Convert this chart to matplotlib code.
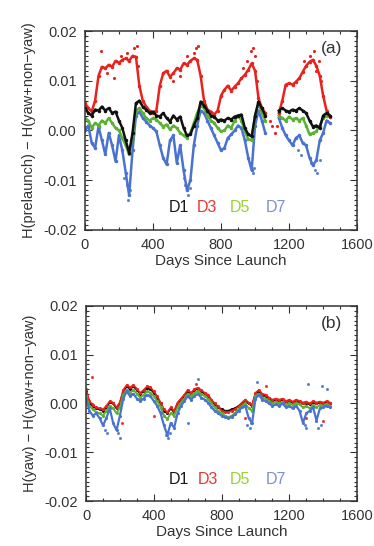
import numpy as np
import matplotlib
matplotlib.use("Agg")
import matplotlib.pyplot as plt
from matplotlib.ticker import MultipleLocator, FormatStrFormatter

nan = np.nan
days = list(range(0, 1441, 20))

# ---------------- Panel (a): H(prelaunch) - H(yaw+non-yaw) ----------------
a_D3 = [0.0055, 0.0045, 0.0038, 0.0060, 0.0110, 0.0128, 0.0125, 0.0132, 0.0128, 0.0140,
        0.0136, 0.0142, 0.0145, 0.0140, 0.0150, 0.0148, 0.0090, 0.0060, 0.0048, 0.0040,
        0.0035, 0.0040, 0.0090, 0.0115, 0.0120, 0.0108, 0.0115, 0.0125, 0.0122, 0.0135,
        0.0132, 0.0140, 0.0145, 0.0142, 0.0110, 0.0060, 0.0042, 0.0038, 0.0032, 0.0040,
        0.0070, 0.0082, 0.0090, 0.0080, 0.0088, 0.0095, 0.0105, 0.0112, 0.0122, 0.0135,
        0.0120, 0.0065, 0.0045, 0.0035, nan, nan, nan, 0.0035, 0.0060, 0.0092,
        0.0095, 0.0092, 0.0098, 0.0105, 0.0118, 0.0130, 0.0138, 0.0142, 0.0130, 0.0110,
        0.0070, 0.0040, 0.0028]
a_D1 = [0.0045, 0.0035, 0.0030, 0.0042, 0.0040, 0.0048, 0.0040, 0.0045, 0.0035, 0.0038,
        0.0020, 0.0005, -0.0020, -0.0045, -0.0005, 0.0055, 0.0060, 0.0048, 0.0042, 0.0035,
        0.0038, 0.0030, 0.0028, 0.0035, 0.0025, 0.0018, 0.0030, 0.0022, 0.0028, 0.0005,
        -0.0010, -0.0008, 0.0010, 0.0025, 0.0058, 0.0050, 0.0040, 0.0030, 0.0028, 0.0020,
        0.0022, 0.0020, 0.0025, 0.0022, 0.0028, 0.0030, 0.0032, 0.0005, -0.0008, -0.0012,
        0.0030, 0.0058, 0.0045, 0.0030, nan, nan, nan, 0.0040, 0.0045, 0.0040,
        0.0038, 0.0042, 0.0040, 0.0045, 0.0040, 0.0035, 0.0020, 0.0008, 0.0010, 0.0005,
        0.0030, 0.0035, 0.0030]
a_D5 = [0.0025, 0.0020, 0.0005, 0.0015, 0.0010, 0.0020, 0.0015, 0.0025, 0.0015, 0.0005,
        0.0000, -0.0015, -0.0030, -0.0048, -0.0010, 0.0040, 0.0045, 0.0035, 0.0025, 0.0020,
        0.0025, 0.0022, 0.0015, 0.0008, 0.0012, 0.0002, 0.0010, 0.0005, -0.0005, -0.0010,
        -0.0015, -0.0005, 0.0015, 0.0035, 0.0050, 0.0045, 0.0030, 0.0020, 0.0015, 0.0005,
        -0.0002, 0.0000, 0.0010, 0.0005, 0.0020, 0.0030, 0.0020, -0.0002, -0.0018, -0.0020,
        0.0030, 0.0055, 0.0035, 0.0020, nan, nan, nan, 0.0030, 0.0025, 0.0020,
        0.0028, 0.0022, 0.0025, 0.0020, 0.0025, 0.0010, -0.0008, -0.0005, -0.0002, 0.0010,
        0.0025, 0.0030, 0.0028]
a_D7 = [0.0000, 0.0010, -0.0025, -0.0035, 0.0008, -0.0020, -0.0048, -0.0005, -0.0030, -0.0062,
        -0.0010, -0.0040, -0.0085, -0.0130, -0.0040, 0.0030, 0.0038, 0.0025, 0.0018, 0.0010,
        0.0005, -0.0002, -0.0030, -0.0055, -0.0068, -0.0020, -0.0010, -0.0065, -0.0030, -0.0080,
        -0.0120, -0.0100, -0.0030, 0.0010, 0.0040, 0.0035, 0.0020, 0.0005, -0.0010, -0.0025,
        -0.0040, -0.0035, -0.0015, -0.0008, 0.0000, 0.0010, 0.0005, -0.0020, -0.0055, -0.0080,
        0.0010, 0.0040, 0.0020, -0.0005, nan, nan, nan, 0.0025, 0.0005, -0.0010,
        -0.0020, -0.0030, -0.0015, -0.0010, -0.0025, -0.0030, -0.0055, -0.0070, -0.0060, -0.0020,
        -0.0005, 0.0020, 0.0015]

# sparse scattered points (panel a)
a_D3_sx = [95, 130, 170, 210, 250, 290, 305, 310, 520, 560, 600, 640, 655, 665, 930, 950, 975, 990, 1000, 1010,
           1085, 1100, 1115, 1130, 1290, 1320, 1345, 1360, 1375, 1390]
a_D3_sy = [0.0160, 0.0115, 0.0105, 0.0150, 0.0155, 0.0165, 0.0170, 0.0130, 0.0100, 0.0110, 0.0150, 0.0155, 0.0165, 0.0170, 0.0125, 0.0140, 0.0160, 0.0165, 0.0150, 0.0100,
           0.0020, 0.0010, -0.0005, 0.0010, 0.0140, 0.0150, 0.0160, 0.0120, 0.0140, 0.0100]
a_D7_sx = [230, 245, 255, 265, 580, 590, 605, 615, 970, 985, 995, 1250, 1270, 1330, 1350, 1365, 1380]
a_D7_sy = [-0.0095, -0.0110, -0.0140, -0.0120, -0.0095, -0.0110, -0.0130, -0.0115, -0.0065, -0.0085, -0.0075, -0.0040, -0.0050, -0.0065, -0.0080, -0.0085, -0.0060]

# ---------------- Panel (b): H(yaw) - H(yaw+non-yaw) ----------------
b_D1 = [0.0025, 0.0000, -0.0005, -0.0010, -0.0012, -0.0015, -0.0008, 0.0003, 0.0000, -0.0010,
        0.0000, 0.0025, 0.0035, 0.0030, 0.0035, 0.0028, 0.0020, 0.0025, 0.0032, 0.0030,
        0.0022, 0.0012, 0.0000, -0.0015, -0.0020, -0.0010, -0.0018, 0.0000, 0.0008, 0.0015,
        0.0025, 0.0020, 0.0028, 0.0030, 0.0025, 0.0020, 0.0015, 0.0005, -0.0002, -0.0008,
        -0.0012, -0.0015, -0.0015, -0.0012, -0.0010, -0.0005, 0.0000, 0.0005, 0.0000, -0.0005,
        0.0020, 0.0025, 0.0018, 0.0015, 0.0010, 0.0005, 0.0008, 0.0005, 0.0008, 0.0003,
        0.0005, 0.0002, 0.0005, 0.0003, 0.0000, 0.0002, -0.0002, 0.0003, 0.0000, 0.0002,
        0.0000, 0.0003, 0.0000]
b_D3 = [0.0030, 0.0005, -0.0003, -0.0008, -0.0010, -0.0012, -0.0005, 0.0005, 0.0002, -0.0008,
        0.0003, 0.0028, 0.0038, 0.0033, 0.0038, 0.0030, 0.0022, 0.0028, 0.0035, 0.0033,
        0.0025, 0.0015, 0.0002, -0.0012, -0.0018, -0.0008, -0.0015, 0.0002, 0.0010, 0.0018,
        0.0028, 0.0022, 0.0030, 0.0032, 0.0028, 0.0022, 0.0018, 0.0008, 0.0000, -0.0006,
        -0.0015, -0.0018, -0.0018, -0.0015, -0.0012, -0.0006, 0.0002, 0.0008, 0.0002, -0.0003,
        0.0022, 0.0028, 0.0020, 0.0018, 0.0012, 0.0008, 0.0010, 0.0008, 0.0010, 0.0005,
        0.0008, 0.0004, 0.0008, 0.0005, 0.0002, 0.0004, 0.0000, 0.0005, 0.0002, 0.0004,
        0.0002, 0.0005, 0.0002]
b_D5 = [0.0015, -0.0005, -0.0012, -0.0018, -0.0020, -0.0025, -0.0015, -0.0005, -0.0010, -0.0020,
        -0.0008, 0.0018, 0.0028, 0.0022, 0.0028, 0.0020, 0.0012, 0.0018, 0.0025, 0.0022,
        0.0015, 0.0005, -0.0008, -0.0025, -0.0032, -0.0020, -0.0025, -0.0008, 0.0002, 0.0010,
        0.0020, 0.0015, 0.0022, 0.0025, 0.0020, 0.0015, 0.0010, 0.0000, -0.0008, -0.0015,
        -0.0020, -0.0025, -0.0028, -0.0025, -0.0020, -0.0012, -0.0005, 0.0000, -0.0010, -0.0015,
        0.0015, 0.0020, 0.0012, 0.0010, 0.0005, 0.0000, 0.0003, 0.0000, 0.0003, -0.0002,
        0.0000, -0.0003, 0.0000, -0.0002, -0.0008, -0.0005, -0.0010, -0.0003, -0.0008, -0.0003,
        -0.0005, -0.0002, -0.0005]
b_D7 = [0.0010, -0.0015, -0.0025, -0.0020, -0.0030, -0.0045, -0.0030, -0.0010, -0.0040, -0.0055,
        -0.0025, 0.0010, 0.0025, 0.0015, 0.0020, 0.0010, 0.0005, 0.0010, 0.0018, 0.0015,
        0.0005, -0.0005, -0.0020, -0.0045, -0.0065, -0.0040, -0.0050, -0.0020, -0.0005, 0.0005,
        0.0015, 0.0008, 0.0015, 0.0020, 0.0012, 0.0008, 0.0002, -0.0008, -0.0015, -0.0020,
        -0.0025, -0.0028, -0.0030, -0.0028, -0.0022, -0.0015, -0.0008, -0.0005, -0.0030, -0.0040,
        0.0010, 0.0018, 0.0008, 0.0005, 0.0000, -0.0005, -0.0002, -0.0005, 0.0000, -0.0008,
        -0.0005, -0.0010, -0.0005, -0.0015, -0.0040, -0.0020, -0.0015, -0.0008, -0.0035, -0.0010,
        -0.0008, -0.0005, -0.0008]

# sparse scattered points (panel b)
b_D7_sx = [110, 125, 190, 200, 470, 485, 495, 600, 660, 950, 965, 975, 1010, 1290, 1300, 1310, 1370, 1385, 1395, 1420]
b_D7_sy = [-0.0055, -0.0060, -0.0060, -0.0070, -0.0065, -0.0070, -0.0060, -0.0040, 0.0050, -0.0045, -0.0050, -0.0040, 0.0045, -0.0045, -0.0050, 0.0040, -0.0050, -0.0045, 0.0035, 0.0030]
b_D3_sx = [35, 210, 400, 650, 940, 1060, 1300, 1400]
b_D3_sy = [0.0055, -0.0040, -0.0025, 0.0040, -0.0030, 0.0035, -0.0030, -0.0035]

labels = ["D1", "D3", "D5", "D7"]
line_colors = {"D1": "#111111", "D3": "#e8231e", "D5": "#5cb135", "D7": "#4a72d0"}
text_colors = {"D1": "#1a1a1a", "D3": "#e8382e", "D5": "#9ccf3a", "D7": "#7d8fd6"}

plt.rcParams['font.family'] = ['Liberation Sans', 'DejaVu Sans']
txt = "#333333"

fig = plt.figure(figsize=(3.74, 5.46), dpi=100)
ax_a = fig.add_axes([0.227, 0.5788, 0.728, 0.3644])
ax_b = fig.add_axes([0.230, 0.0824, 0.725, 0.3572])


def style(ax, ylabel, tag):
    ax.set_xlim(0, 1600)
    ax.set_ylim(-0.02, 0.02)
    ax.xaxis.set_major_locator(MultipleLocator(400))
    ax.xaxis.set_minor_locator(MultipleLocator(100))
    ax.yaxis.set_major_locator(MultipleLocator(0.01))
    ax.yaxis.set_minor_locator(MultipleLocator(0.001))
    ax.yaxis.set_major_formatter(FormatStrFormatter('%.2f'))
    ax.tick_params(which='both', direction='in', top=True, right=True, colors='#333333',
                   labelcolor=txt, labelsize=10.5, width=0.8)
    ax.tick_params(which='major', length=5, pad=6)
    ax.tick_params(which='minor', length=2.5)
    for s in ax.spines.values():
        s.set_color('#333333')
        s.set_linewidth(1.1)
    ax.set_xlabel("Days Since Launch", fontsize=11, color=txt, labelpad=1)
    ax.set_ylabel(ylabel, fontsize=10.5, color=txt, labelpad=5)
    ax.text(1450, 0.0165, tag, fontsize=12.5, color=txt, ha='center', va='center')
    xs = [550, 720, 910, 1120]
    for lab, xx in zip(labels, xs):
        ax.text(xx, -0.0155, lab, fontsize=11.5, color=text_colors[lab], ha='center', va='center')


series_a = {"D1": a_D1, "D3": a_D3, "D5": a_D5, "D7": a_D7}
series_b = {"D1": b_D1, "D3": b_D3, "D5": b_D5, "D7": b_D7}

for lab in ["D7", "D5", "D3", "D1"]:
    ax_a.plot(days, series_a[lab], color=line_colors[lab], lw=1.8, marker='.', ms=3,
              solid_joinstyle='round')

for lab, lw in [("D1", 1.4), ("D3", 1.2), ("D5", 1.4), ("D7", 1.6)]:
    ax_b.plot(days, series_b[lab], color=line_colors[lab], lw=lw, marker='.', ms=2.5,
              solid_joinstyle='round')

ax_a.plot(a_D3_sx, a_D3_sy, ls='none', marker='.', ms=2.5, color=line_colors["D3"])
ax_a.plot(a_D7_sx, a_D7_sy, ls='none', marker='.', ms=2.5, color=line_colors["D7"], alpha=0.8)
ax_b.plot(b_D7_sx, b_D7_sy, ls='none', marker='.', ms=2.5, color=line_colors["D7"], alpha=0.8)
ax_b.plot(b_D3_sx, b_D3_sy, ls='none', marker='.', ms=2.5, color=line_colors["D3"], alpha=0.8)

style(ax_a, "H(prelaunch) \u2212 H(yaw+non\u2212yaw)", "(a)")
style(ax_b, "H(yaw) \u2212 H(yaw+non\u2212yaw)", "(b)")

fig.savefig("out.png", dpi=100)
